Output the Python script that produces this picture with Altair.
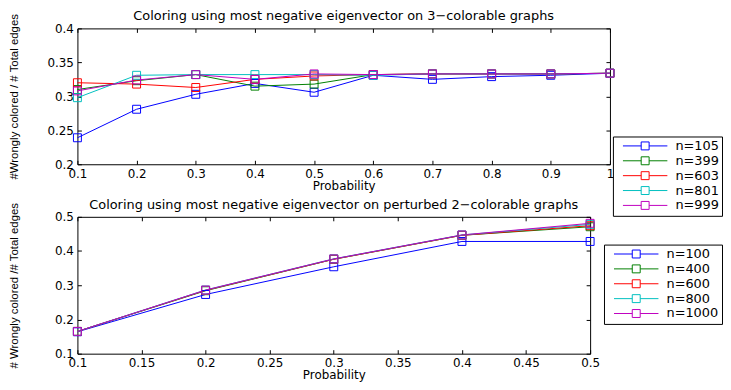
import altair as alt
import pandas as pd

# ---------------- data ----------------
top_prob = [0.1, 0.2, 0.3, 0.4, 0.5, 0.6, 0.7, 0.8, 0.9, 1.0]
top_names = ["n=105", "n=399", "n=603", "n=801", "n=999"]
top_n105 = [0.239, 0.281, 0.303, 0.319, 0.306, 0.331, 0.325, 0.329, 0.331, 0.334]
top_n399 = [0.310, 0.323, 0.332, 0.315, 0.318, 0.332, 0.333, 0.333, 0.333, 0.334]
top_n603 = [0.320, 0.318, 0.313, 0.325, 0.330, 0.332, 0.333, 0.333, 0.333, 0.334]
top_n801 = [0.298, 0.331, 0.332, 0.332, 0.332, 0.331, 0.333, 0.333, 0.333, 0.334]
top_n999 = [0.308, 0.324, 0.332, 0.325, 0.333, 0.332, 0.333, 0.333, 0.333, 0.334]

bot_prob = [0.1, 0.2, 0.3, 0.4, 0.5]
bot_names = ["n=100", "n=400", "n=600", "n=800", "n=1000"]
bot_n100 = [0.164, 0.273, 0.354, 0.428, 0.428]
bot_n400 = [0.165, 0.284, 0.376, 0.446, 0.471]
bot_n600 = [0.165, 0.285, 0.376, 0.446, 0.474]
bot_n800 = [0.165, 0.286, 0.377, 0.447, 0.478]
bot_n1000 = [0.165, 0.286, 0.377, 0.447, 0.481]

top_x_ticks = [0.1, 0.2, 0.3, 0.4, 0.5, 0.6, 0.7, 0.8, 0.9, 1.0]
top_y_ticks = [0.2, 0.25, 0.3, 0.35, 0.4]
bot_x_ticks = [0.1, 0.15, 0.2, 0.25, 0.3, 0.35, 0.4, 0.45, 0.5]
bot_y_ticks = [0.1, 0.2, 0.3, 0.4, 0.5]

colors = ["#0000ff", "#008000", "#ff0000", "#00bfbf", "#bf00bf"]

top_title = "Coloring using most negative eigenvector on 3\u2212colorable graphs"
bot_title = "Coloring using most negative eigenvector on perturbed 2\u2212colorable graphs"
top_ytitle = "#Wrongly colored / # Total edges"
bot_ytitle = "# Wrongly colored /# Total edges"


def long_table(prob, names, series):
    rows = []
    for name, vals in zip(names, series):
        for p, v in zip(prob, vals):
            rows.append({"p": p, "v": v, "series": name})
    return pd.DataFrame(rows)


SYMBOL = "M-5.6,0H-1M1,0H5.6M-1,-1H1V1H-1Z"


def panel(df, names, title, ytitle, xticks, yticks, xdom, ydom, w, h, lx, ly):
    color = alt.Color(
        "series:N",
        sort=names,
        scale=alt.Scale(domain=names, range=colors),
        legend=alt.Legend(
            title=None, orient="none", legendX=lx, legendY=ly,
            symbolType=SYMBOL, symbolSize=64, symbolStrokeWidth=1,
            symbolFillColor="transparent", symbolOffset=23, labelOffset=24,
            labelFont="DejaVu Sans", labelFontSize=13, labelColor="black",
            strokeColor="black", fillColor="white", padding=3, rowPadding=1,
        ),
    )
    x = alt.X(
        "p:Q",
        scale=alt.Scale(domain=xdom, nice=False, zero=False),
        axis=alt.Axis(
            values=xticks, format="~g", title="Probability",
            grid=True, gridColor="black", gridOpacity=1, gridWidth=1,
            gridDash=[4, h - 8, 4, 3000],
            ticks=False, tickSize=0, domain=False,
            labelPadding=4, titlePadding=1, labelFlush=False,
            labelOverlap=False,
        ),
    )
    y = alt.Y(
        "v:Q",
        scale=alt.Scale(domain=ydom, nice=False, zero=False),
        axis=alt.Axis(
            values=yticks, format="~g", title=ytitle,
            grid=True, gridColor="black", gridOpacity=1, gridWidth=1,
            gridDash=[4, w - 8, 4, 3000],
            ticks=False, tickSize=0, domain=False,
            labelPadding=4, labelFlush=False, labelOverlap=False,
            titleFont="Liberation Sans", titleFontSize=11.5, titleX=-58,
        ),
    )
    base = alt.Chart(df).encode(x=x, y=y, color=color)
    lines = base.mark_line(strokeWidth=1, clip=False)
    pts = base.mark_point(shape="square", filled=False, size=64, strokeWidth=1, opacity=1)
    return alt.layer(lines, pts).properties(
        width=w, height=h,
        title=alt.TitleParams(
            title, font="DejaVu Sans", fontSize=13, fontWeight="normal",
            color="black", offset=-10, anchor="middle", frame="group",
        ),
    )


top_df = long_table(top_prob, top_names, [top_n105, top_n399, top_n603, top_n801, top_n999])
bot_df = long_table(bot_prob, bot_names, [bot_n100, bot_n400, bot_n600, bot_n800, bot_n1000])

top = panel(top_df, top_names, top_title, top_ytitle, top_x_ticks, top_y_ticks,
            [0.1, 1.0], [0.2, 0.4], 537, 137, 540, 109)
bot = panel(bot_df, bot_names, bot_title, bot_ytitle, bot_x_ticks, bot_y_ticks,
            [0.1, 0.5], [0.1, 0.5], 517, 138, 531, 28)

chart = (
    alt.vconcat(top, bot, spacing=-19)
    .resolve_scale(color="independent")
    .resolve_legend(color="independent")
    .properties(padding={"left": 0, "top": 0, "right": 0, "bottom": 0}, background="white")
    .configure_view(stroke="black", strokeWidth=1)
    .configure_axis(
        labelFont="DejaVu Sans", labelFontSize=12, labelColor="black",
        titleFont="DejaVu Sans", titleFontSize=12, titleFontWeight="normal",
        titleColor="black",
    )
)

chart.save("out.html", embed_options={"renderer": "svg", "actions": False})
